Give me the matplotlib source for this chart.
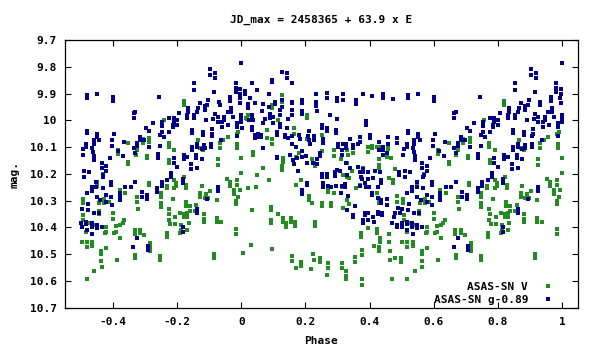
import numpy as np
import matplotlib
matplotlib.use("Agg")
import matplotlib.pyplot as plt

plt.rcParams['font.family'] = ['DejaVu Sans Mono']
plt.rcParams['font.size'] = 8
plt.rcParams['font.weight'] = 'bold'

# (phase, mag) for ASAS-SN V
v_points = [
    (0.126, 9.907), (0.126, 9.93), (0.095, 9.943), (0.095, 9.955), (0.020, 9.98), (0.014, 9.99),
    (0.018, 9.995), (0.115, 9.999), (0.080, 10.036), (0.163, 10.03), (0.163, 10.05), (0.080, 10.067),
    (0.095, 10.07), (0.095, 10.09), (0.037, 10.117), (0.037, 10.13), (0.131, 10.142), (0.131, 10.155),
    (0.126, 10.17), (0.126, 10.186), (0.066, 10.18), (0.050, 10.206), (0.085, 10.223), (0.020, 10.254),
    (0.046, 10.25), (0.092, 10.323), (0.092, 10.335), (0.032, 10.335), (0.092, 10.372), (0.092, 10.385),
    (0.115, 10.35), (0.131, 10.366), (0.131, 10.38), (0.155, 10.364), (0.155, 10.38), (0.140, 10.382),
    (0.140, 10.4), (0.029, 10.466), (0.095, 10.482), (0.006, 10.495), (0.157, 10.507), (0.157, 10.525),
    (0.204, 9.98), (0.204, 9.99), (0.251, 10.055), (0.206, 10.07), (0.180, 10.123), (0.251, 10.115),
    (0.288, 10.111), (0.288, 10.133), (0.169, 10.138), (0.310, 10.146), (0.221, 10.146), (0.227, 10.16),
    (0.229, 10.17), (0.316, 10.204), (0.186, 10.223), (0.169, 10.242), (0.271, 10.254), (0.271, 10.267),
    (0.313, 10.248), (0.290, 10.273), (0.211, 10.283), (0.211, 10.298), (0.219, 10.31), (0.251, 10.308),
    (0.251, 10.32), (0.279, 10.308), (0.279, 10.32), (0.316, 10.329), (0.167, 10.379), (0.167, 10.395),
    (0.229, 10.379), (0.229, 10.395), (0.224, 10.5), (0.185, 10.53), (0.185, 10.543), (0.169, 10.55),
    (0.244, 10.516), (0.244, 10.528), (0.226, 10.522), (0.271, 10.534), (0.271, 10.55), (0.313, 10.534),
    (0.313, 10.55), (0.216, 10.555), (0.326, 10.563), (0.266, 10.578), (0.326, 10.582), (0.326, 10.594),
    (0.406, 10.096), (0.406, 10.105), (0.396, 10.101), (0.396, 10.117), (0.422, 10.1), (0.437, 10.101),
    (0.437, 10.111), (0.456, 10.099), (0.456, 10.108), (0.330, 10.111), (0.333, 10.13), (0.349, 10.123),
    (0.453, 10.125), (0.453, 10.136), (0.430, 10.146), (0.466, 10.142), (0.330, 10.158), (0.429, 10.167),
    (0.429, 10.177), (0.380, 10.18), (0.344, 10.19), (0.479, 10.183), (0.330, 10.21), (0.335, 10.217),
    (0.370, 10.242), (0.461, 10.217), (0.474, 10.223), (0.474, 10.235), (0.359, 10.254), (0.422, 10.273),
    (0.484, 10.281), (0.330, 10.298), (0.335, 10.313), (0.430, 10.295), (0.430, 10.31), (0.484, 10.307),
    (0.373, 10.42), (0.373, 10.435), (0.422, 10.407), (0.422, 10.42), (0.394, 10.403), (0.432, 10.44),
    (0.434, 10.454), (0.461, 10.426), (0.461, 10.454), (0.413, 10.468), (0.429, 10.472), (0.429, 10.487),
    (0.375, 10.485), (0.375, 10.503), (0.463, 10.49), (0.463, 10.52), (0.480, 10.516), (0.354, 10.512),
    (0.354, 10.53), (0.375, 10.594), (0.375, 10.615), (0.469, 10.594),
    (0.648, 10.084), (0.614, 10.11), (0.614, 10.126), (0.648, 10.155), (0.648, 10.163), (0.570, 10.202),
    (0.549, 10.23), (0.549, 10.245), (0.620, 10.26), (0.638, 10.273), (0.505, 10.295), (0.505, 10.31),
    (0.573, 10.295), (0.573, 10.308), (0.557, 10.31), (0.586, 10.304), (0.620, 10.285), (0.555, 10.337),
    (0.555, 10.35), (0.601, 10.348), (0.507, 10.354), (0.507, 10.372), (0.601, 10.37), (0.635, 10.372),
    (0.630, 10.382), (0.526, 10.382), (0.622, 10.39), (0.539, 10.39), (0.578, 10.397), (0.578, 10.416),
    (0.609, 10.395), (0.609, 10.416), (0.667, 10.41), (0.667, 10.425), (0.575, 10.422), (0.604, 10.422),
    (0.516, 10.416), (0.622, 10.44), (0.502, 10.453), (0.518, 10.453), (0.518, 10.472), (0.534, 10.453),
    (0.534, 10.47), (0.578, 10.478), (0.563, 10.487), (0.563, 10.5), (0.669, 10.503), (0.669, 10.516),
    (0.497, 10.516), (0.497, 10.528), (0.563, 10.525), (0.612, 10.522), (0.565, 10.547), (0.542, 10.562),
    (0.518, 10.594),
    (0.820, 9.927), (0.820, 9.943), (0.758, 9.999), (0.775, 10.042), (0.713, 10.067), (0.713, 10.08),
    (0.692, 10.071), (0.692, 10.084), (0.773, 10.086), (0.773, 10.1), (0.676, 10.086), (0.675, 10.11),
    (0.791, 10.111), (0.671, 10.13), (0.706, 10.133), (0.706, 10.142), (0.775, 10.148), (0.775, 10.158),
    (0.822, 10.213), (0.791, 10.223), (0.796, 10.235), (0.796, 10.245), (0.711, 10.233), (0.711, 10.242),
    (0.767, 10.245), (0.767, 10.254), (0.828, 10.242), (0.828, 10.254), (0.791, 10.254), (0.749, 10.273),
    (0.749, 10.285), (0.676, 10.285), (0.676, 10.304), (0.786, 10.295), (0.749, 10.31), (0.749, 10.323),
    (0.826, 10.304), (0.826, 10.32), (0.679, 10.333), (0.773, 10.33), (0.810, 10.345), (0.832, 10.348),
    (0.832, 10.36), (0.822, 10.35), (0.822, 10.362), (0.794, 10.36), (0.775, 10.35), (0.773, 10.372),
    (0.778, 10.387), (0.794, 10.387), (0.836, 10.385), (0.812, 10.39), (0.812, 10.41), (0.832, 10.41),
    (0.685, 10.41), (0.685, 10.422), (0.768, 10.422), (0.768, 10.437), (0.697, 10.428), (0.809, 10.422),
    (0.716, 10.457), (0.716, 10.472), (0.716, 10.487), (0.747, 10.507), (0.747, 10.52),
    (0.990, 10.042), (0.985, 10.05), (0.865, 10.074), (0.881, 10.111), (0.933, 10.086), (0.933, 10.105),
    (0.943, 10.074), (0.957, 10.064), (0.988, 10.09), (0.988, 10.105), (0.871, 10.105), (0.999, 10.142),
    (0.926, 10.146), (0.926, 10.167), (0.999, 10.198), (0.954, 10.22), (0.964, 10.23), (0.964, 10.245),
    (0.985, 10.223), (0.985, 10.24), (0.876, 10.245), (0.995, 10.26), (0.976, 10.26), (0.976, 10.275),
    (0.902, 10.263), (0.871, 10.273), (0.871, 10.285), (0.891, 10.275), (0.897, 10.29), (0.886, 10.291),
    (0.990, 10.285), (0.983, 10.3), (0.983, 10.313), (0.923, 10.298), (0.860, 10.316), (0.839, 10.32),
    (0.855, 10.337), (0.839, 10.337), (0.883, 10.35), (0.883, 10.37), (0.883, 10.38), (0.923, 10.366),
    (0.923, 10.38), (0.938, 10.38), (0.984, 10.407), (0.984, 10.425), (0.915, 10.5), (0.915, 10.516),
]

# (phase, mag) for ASAS-SN g, shifted by -0.89
g_points = [
    (0.126, 9.82), (0.141, 9.825), (0.141, 9.843), (0.095, 9.85), (0.095, 9.857), (0.157, 9.86),
    (0.032, 9.86), (0.011, 9.89), (0.011, 9.9), (0.048, 9.887), (0.085, 9.9), (0.027, 9.918),
    (0.126, 9.925), (0.126, 9.95), (0.157, 9.93), (0.157, 9.937), (0.043, 9.935), (0.069, 9.94),
    (0.105, 9.93), (0.105, 9.94), (0.020, 9.94), (0.020, 9.955), (0.085, 9.949), (0.120, 9.96),
    (0.157, 9.962), (0.157, 9.98), (0.064, 9.967), (0.090, 9.975), (0.090, 9.99), (0.032, 9.98),
    (0.032, 9.99), (0.100, 9.986), (0.121, 9.98), (0.074, 9.995), (0.037, 9.999), (0.147, 9.995),
    (0.025, 9.999), (0.069, 10.009), (0.100, 10.009), (0.121, 10.012), (0.121, 10.025), (0.032, 10.025),
    (0.032, 10.036), (0.001, 10.03), (0.141, 10.03), (0.110, 10.042), (0.110, 10.055), (0.043, 10.055),
    (0.043, 10.067), (0.051, 10.053), (0.051, 10.064), (0.061, 10.055), (0.061, 10.061), (0.136, 10.055),
    (0.136, 10.064), (0.157, 10.06), (0.147, 10.067), (0.157, 10.088), (0.066, 10.105), (0.151, 10.13),
    (0.110, 10.136), (0.110, 10.142),
    (0.190, 9.924), (0.190, 9.937), (0.234, 9.9), (0.267, 9.897), (0.267, 9.918), (0.316, 9.9),
    (0.298, 9.915), (0.298, 9.927), (0.316, 9.924), (0.234, 9.93), (0.232, 9.945), (0.190, 9.965),
    (0.190, 9.977), (0.235, 9.965), (0.276, 9.98), (0.298, 9.996), (0.251, 10.018), (0.251, 10.03),
    (0.267, 10.03), (0.267, 10.04), (0.211, 10.039), (0.295, 10.036), (0.295, 10.049), (0.180, 10.055),
    (0.209, 10.059), (0.227, 10.059), (0.182, 10.07), (0.211, 10.075), (0.213, 10.09), (0.256, 10.07),
    (0.256, 10.085), (0.228, 10.074), (0.303, 10.09), (0.303, 10.1), (0.316, 10.09), (0.326, 10.09),
    (0.326, 10.105), (0.171, 10.1), (0.188, 10.115), (0.246, 10.121), (0.246, 10.133), (0.313, 10.111),
    (0.313, 10.13), (0.201, 10.133), (0.190, 10.136), (0.174, 10.142), (0.161, 10.15), (0.164, 10.163),
    (0.237, 10.146), (0.237, 10.163), (0.204, 10.16), (0.225, 10.16), (0.326, 10.16), (0.297, 10.186),
    (0.292, 10.192), (0.308, 10.188), (0.177, 10.19), (0.253, 10.2), (0.253, 10.21), (0.268, 10.2),
    (0.268, 10.21), (0.293, 10.208), (0.331, 10.204), (0.206, 10.233), (0.206, 10.243), (0.255, 10.235),
    (0.255, 10.248), (0.270, 10.245), (0.281, 10.25), (0.294, 10.244), (0.313, 10.244), (0.323, 10.238),
    (0.323, 10.248), (0.188, 10.26), (0.188, 10.275), (0.310, 10.273),
    (0.378, 9.9), (0.359, 9.924), (0.359, 9.94), (0.409, 9.91), (0.443, 9.9), (0.443, 9.918),
    (0.472, 9.922), (0.390, 10.003), (0.390, 10.018), (0.339, 10.07), (0.370, 10.064), (0.370, 10.08),
    (0.401, 10.055), (0.401, 10.067), (0.458, 10.061), (0.458, 10.088), (0.484, 10.067), (0.484, 10.086),
    (0.347, 10.092), (0.347, 10.105), (0.365, 10.088), (0.430, 10.082), (0.443, 10.1), (0.443, 10.111),
    (0.430, 10.111), (0.453, 10.123), (0.443, 10.13), (0.339, 10.18), (0.365, 10.173), (0.380, 10.183),
    (0.380, 10.192), (0.370, 10.192), (0.396, 10.192), (0.417, 10.188), (0.432, 10.192), (0.492, 10.194),
    (0.492, 10.204), (0.374, 10.21), (0.376, 10.22), (0.437, 10.223), (0.437, 10.235), (0.396, 10.22),
    (0.386, 10.236), (0.388, 10.248), (0.370, 10.244), (0.399, 10.248), (0.411, 10.217), (0.425, 10.248),
    (0.407, 10.273), (0.407, 10.28), (0.333, 10.283), (0.425, 10.29), (0.453, 10.295), (0.453, 10.316),
    (0.437, 10.298), (0.437, 10.31), (0.354, 10.32), (0.328, 10.335), (0.385, 10.345), (0.385, 10.355),
    (0.396, 10.348), (0.427, 10.341), (0.427, 10.35), (0.440, 10.345), (0.440, 10.354), (0.480, 10.348),
    (0.475, 10.36), (0.349, 10.354), (0.349, 10.36), (0.378, 10.373), (0.378, 10.385), (0.411, 10.36),
    (0.396, 10.372), (0.414, 10.381), (0.488, 10.329), (0.495, 10.348), (0.470, 10.385), (0.484, 10.39),
    (0.484, 10.4),
    (0.520, 9.905), (0.520, 9.918), (0.551, 9.9), (0.601, 9.914), (0.601, 9.927), (0.664, 9.974),
    (0.664, 9.993), (0.669, 9.968), (0.520, 10.039), (0.520, 10.046), (0.551, 10.051), (0.551, 10.064),
    (0.604, 10.05), (0.539, 10.074), (0.557, 10.074), (0.598, 10.074), (0.635, 10.08), (0.516, 10.09),
    (0.516, 10.1), (0.539, 10.09), (0.598, 10.096), (0.507, 10.108), (0.535, 10.105), (0.538, 10.12),
    (0.615, 10.113), (0.664, 10.105), (0.669, 10.123), (0.505, 10.13), (0.541, 10.133), (0.541, 10.148),
    (0.631, 10.133), (0.589, 10.14), (0.565, 10.158), (0.565, 10.18), (0.578, 10.17), (0.578, 10.188),
    (0.526, 10.192), (0.510, 10.19), (0.510, 10.21), (0.568, 10.213), (0.570, 10.204), (0.594, 10.23),
    (0.594, 10.242), (0.669, 10.23), (0.547, 10.232), (0.547, 10.248), (0.638, 10.248), (0.533, 10.248),
    (0.533, 10.263), (0.568, 10.254), (0.655, 10.248), (0.518, 10.273), (0.549, 10.285), (0.578, 10.28),
    (0.620, 10.273), (0.620, 10.283), (0.594, 10.285), (0.560, 10.298), (0.578, 10.304), (0.620, 10.298),
    (0.596, 10.316), (0.523, 10.313), (0.502, 10.333), (0.521, 10.335), (0.539, 10.348), (0.555, 10.348),
    (0.500, 10.385), (0.502, 10.397), (0.516, 10.38), (0.516, 10.388), (0.533, 10.385), (0.533, 10.4),
    (0.549, 10.391), (0.549, 10.403), (0.565, 10.397), (0.518, 10.41), (0.534, 10.425), (0.662, 10.472),
    (0.744, 9.914), (0.834, 9.955), (0.834, 9.968), (0.806, 9.974), (0.775, 9.993), (0.789, 9.993),
    (0.789, 10.005), (0.800, 9.999), (0.800, 10.018), (0.726, 10.009), (0.754, 10.005), (0.754, 10.02),
    (0.754, 10.042), (0.786, 10.018), (0.786, 10.026), (0.832, 9.98), (0.832, 9.993), (0.703, 10.03),
    (0.713, 10.039), (0.775, 10.042), (0.747, 10.055), (0.760, 10.061), (0.684, 10.064), (0.684, 10.074),
    (0.697, 10.074), (0.676, 10.086), (0.676, 10.096), (0.713, 10.1), (0.747, 10.096), (0.739, 10.126),
    (0.739, 10.142), (0.820, 10.13), (0.820, 10.146), (0.832, 10.136), (0.789, 10.142), (0.789, 10.158),
    (0.800, 10.176), (0.781, 10.198), (0.781, 10.21), (0.768, 10.223), (0.817, 10.22), (0.817, 10.233),
    (0.751, 10.23), (0.751, 10.245), (0.737, 10.254), (0.737, 10.267), (0.689, 10.267), (0.689, 10.288),
    (0.705, 10.28), (0.705, 10.295), (0.817, 10.397), (0.817, 10.416), (0.676, 10.44), (0.708, 10.47),
    (0.708, 10.485),
    (0.999, 9.787), (0.902, 9.81), (0.902, 9.83), (0.919, 9.825), (0.919, 9.843), (0.982, 9.86),
    (0.853, 9.862), (0.853, 9.887), (0.982, 9.88), (0.982, 9.893), (0.996, 9.884), (0.997, 9.9),
    (0.915, 9.895), (0.965, 9.912), (0.965, 9.928), (0.995, 9.918), (0.997, 9.937), (0.896, 9.924),
    (0.894, 9.943), (0.930, 9.93), (0.932, 9.943), (0.871, 9.937), (0.886, 9.947), (0.886, 9.962),
    (0.968, 9.955), (0.968, 9.968), (0.865, 9.955), (0.863, 9.968), (0.853, 9.98), (0.853, 9.993),
    (0.917, 9.976), (0.957, 9.968), (0.946, 9.986), (0.946, 9.999), (0.975, 9.986), (0.926, 9.989),
    (0.926, 10.005), (0.999, 9.98), (0.999, 9.993), (0.891, 9.999), (0.912, 9.996), (0.941, 10.005),
    (0.941, 10.026), (0.959, 10.018), (0.988, 10.009), (0.988, 10.026), (0.999, 10.005), (0.910, 10.033),
    (0.910, 10.05), (0.881, 10.042), (0.881, 10.055), (0.847, 10.036), (0.847, 10.046), (0.907, 10.059),
    (0.988, 10.059), (0.938, 10.074), (0.884, 10.092), (0.886, 10.105), (0.905, 10.09), (0.905, 10.1),
    (0.862, 10.09), (0.862, 10.1), (0.847, 10.1), (0.847, 10.111), (0.876, 10.108), (0.860, 10.13),
    (0.860, 10.142), (0.876, 10.146), (0.844, 10.163), (0.863, 10.177), (0.844, 10.183), (0.926, 10.248),
    (0.926, 10.263), (0.863, 10.333), (0.863, 10.345), (0.894, 10.295),
]

x_ticks = [-0.4, -0.2, 0, 0.2, 0.4, 0.6, 0.8, 1]
x_labels = ['-0.4', '-0.2', '0', '0.2', '0.4', '0.6', '0.8', '1']
y_ticks = [9.7, 9.8, 9.9, 10.0, 10.1, 10.2, 10.3, 10.4, 10.5, 10.6, 10.7]
y_labels = ['9.7', '9.8', '9.9', '10', '10.1', '10.2', '10.3', '10.4', '10.5', '10.6', '10.7']


def fold(points):
    # repeat the second half of the cycle at negative phase
    p = np.array([pt[0] for pt in points])
    m = np.array([pt[1] for pt in points])
    back = p >= 0.5
    return np.concatenate([p, p[back] - 1]), np.concatenate([m, m[back]])


fig = plt.figure(figsize=(6, 3.5), dpi=100)
ax = fig.add_axes([65 / 600, 1 - 307.7 / 350, 513 / 600, 267.7 / 350])

pv, mv = fold(v_points)
pg, mg = fold(g_points)
ax.plot(pv, mv, 's', color='#228b22', ms=2.6, mew=0, label='ASAS-SN V')
ax.plot(pg, mg, 's', color='#00008b', ms=2.6, mew=0, label='ASAS-SN g-0.89')

ax.set_xlim(-0.55, 1.05)
ax.set_ylim(10.7, 9.7)
ax.set_xticks(x_ticks)
ax.set_xticklabels(x_labels)
ax.set_yticks(y_ticks)
ax.set_yticklabels(y_labels)
ax.tick_params(direction='in', top=True, right=True, length=4, width=0.8, labelsize=8)
ax.tick_params(axis='x', pad=7)
ax.tick_params(axis='y', pad=6)
for s in ax.spines.values():
    s.set_linewidth(0.9)

fig.text(321 / 600, 1 - 20 / 350, 'JD_max = 2458365 + 63.9 x E', ha='center', va='center')
fig.text(321 / 600, 1 - 341 / 350, 'Phase', ha='center', va='center')
fig.text(14 / 600, 1 - 175 / 350, 'mag.', ha='center', va='center', rotation=90)

ax.legend(loc='lower right', bbox_to_anchor=(0.957, 0.01), frameon=False, markerfirst=False,
          handlelength=1.5, handletextpad=1.0, labelspacing=0.3, borderpad=0, borderaxespad=0)

fig.savefig('out.png', dpi=100)
